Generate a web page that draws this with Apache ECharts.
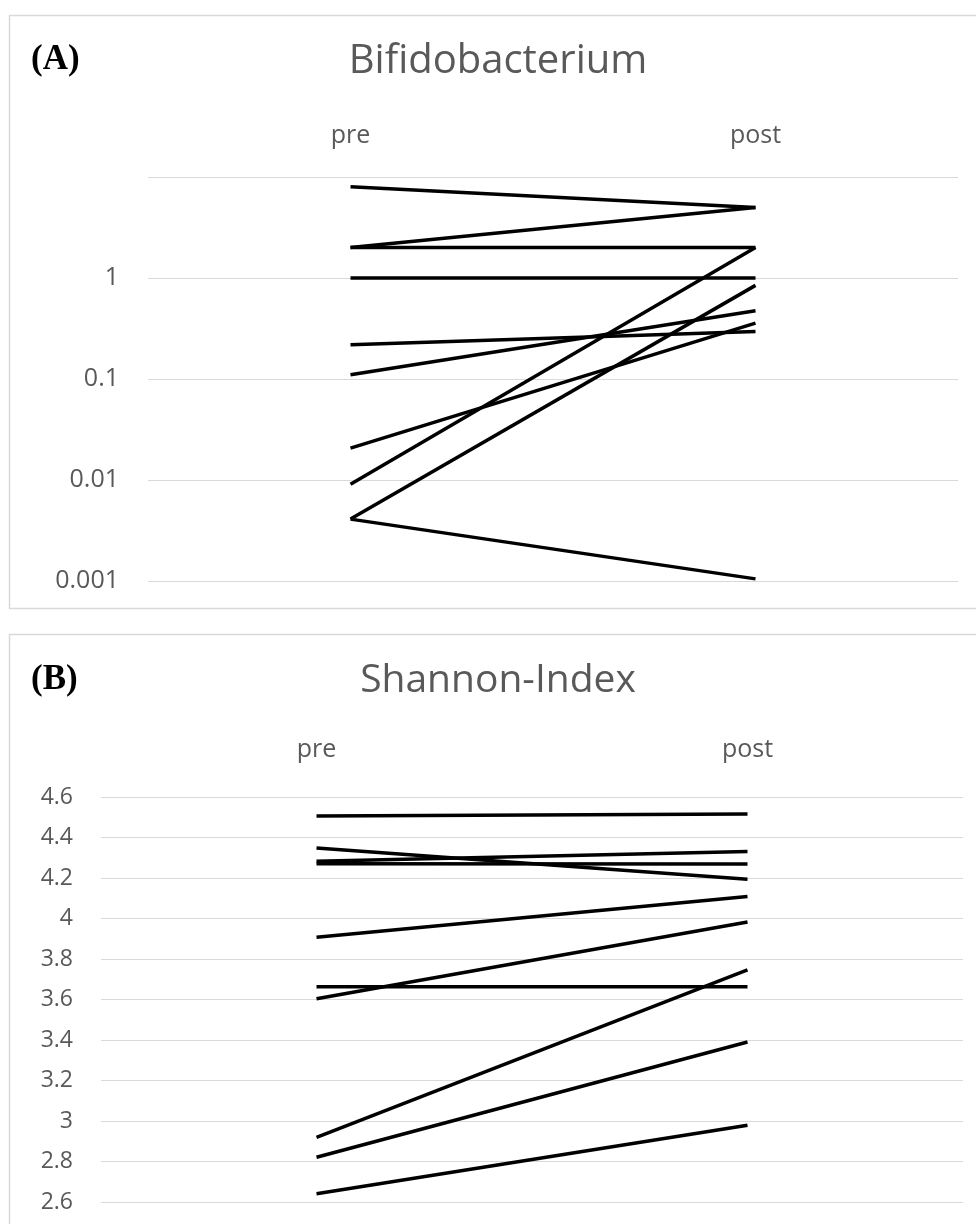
<!DOCTYPE html>
<html>
<head>
<meta charset="utf-8">
<script src="https://cdn.jsdelivr.net/npm/echarts@6/dist/echarts.min.js"></script>
<style>
  html, body { margin: 0; padding: 0; background: #fff; }
  #main { width: 976px; height: 1224px; }
</style>
</head>
<body>
<div id="main"></div>
<script>
var categories = ['pre', 'post'];

// (A) Bifidobacterium, one pair per subject
var bifidoPre  = [8, 2, 2, 1, 0.218, 0.110, 0.0207, 0.0091, 0.0041, 0.0041];
var bifidoPost = [5, 5, 2, 1, 0.296, 0.474, 0.358, 2, 0.845, 0.00105];

// (B) Shannon-Index
var shannonPre  = [4.506, 4.348, 4.283, 4.270, 3.907, 3.604, 3.663, 2.919, 2.821, 2.641];
var shannonPost = [4.516, 4.194, 4.331, 4.269, 4.109, 3.983, 3.663, 3.746, 3.390, 2.979];

var shannonTicks = [2.6, 2.8, 3, 3.2, 3.4, 3.6, 3.8, 4, 4.2, 4.4, 4.6];

var chartDom = document.getElementById('main');
var myChart = echarts.init(chartDom);
var option;

var grey = '#595959';
var gridGrey = '#d9d9d9';
var font = 'Open Sans';

var series = [];
for (let i = 0; i < bifidoPre.length; i++) {
    series.push({
        type: 'line',
        xAxisIndex: 0,
        yAxisIndex: 0,
        data: [bifidoPre[i], bifidoPost[i]],
        symbol: 'none',
        lineStyle: { color: '#000', width: 3.5 }
    });
}
for (let i = 0; i < shannonPre.length; i++) {
    series.push({
        type: 'line',
        xAxisIndex: 1,
        yAxisIndex: 1,
        data: [shannonPre[i], shannonPost[i]],
        symbol: 'none',
        lineStyle: { color: '#000', width: 3.5 }
    });
}

function catAxis(gridIndex, margin) {
    return {
        type: 'category',
        gridIndex: gridIndex,
        position: 'top',
        data: categories,
        boundaryGap: true,
        axisLine: { show: false },
        axisTick: { show: false },
        splitLine: { show: false },
        axisLabel: { color: grey, fontSize: 25, fontFamily: font, margin: margin }
    };
}

option = {
    backgroundColor: '#fff',
    animation: false,
    graphic: [
        // panel frames
        { type: 'rect', shape: { x: 9.5, y: 15.5, width: 990, height: 593 },
          style: { fill: 'none', stroke: gridGrey, lineWidth: 1.5 } },
        { type: 'rect', shape: { x: 9.5, y: 634.5, width: 990, height: 700 },
          style: { fill: 'none', stroke: gridGrey, lineWidth: 1.5 } },
        // panel letters
        { type: 'text', left: 31, top: 42,
          style: { text: '(A)', fontFamily: 'Liberation Serif', fontWeight: 'bold', fontSize: 35, fill: '#000' } },
        { type: 'text', left: 31, top: 662,
          style: { text: '(B)', fontFamily: 'Liberation Serif', fontWeight: 'bold', fontSize: 35, fill: '#000' } },
        // titles
        { type: 'text', x: 498, y: 62,
          style: { text: 'Bifidobacterium', fontFamily: font, fontSize: 40, fill: grey,
                   align: 'center', verticalAlign: 'middle' } },
        { type: 'text', x: 498, y: 681,
          style: { text: 'Shannon-Index', fontFamily: font, fontSize: 39, fill: grey,
                   align: 'center', verticalAlign: 'middle' } }
    ],
    grid: [
        { left: 148, top: 177, width: 810, height: 404 },
        { left: 101, top: 797, width: 862, height: 405 }
    ],
    xAxis: [catAxis(0, 29), catAxis(1, 35)],
    yAxis: [
        {
            type: 'log',
            gridIndex: 0,
            logBase: 10,
            min: 0.001,
            max: 10,
            axisLine: { show: false },
            axisTick: { show: false },
            splitLine: { lineStyle: { color: gridGrey, width: 1 } },
            axisLabel: {
                color: grey, fontSize: 25, fontFamily: font, margin: 29,
                formatter: function (v) {
                    if (v >= 9.99) return '';
                    return String(+v.toPrecision(3));
                }
            }
        },
        {
            type: 'value',
            gridIndex: 1,
            min: shannonTicks[0],
            max: shannonTicks[shannonTicks.length - 1],
            interval: 0.2,
            axisLine: { show: false },
            axisTick: { show: false },
            splitLine: { lineStyle: { color: gridGrey, width: 1 } },
            axisLabel: {
                color: grey, fontSize: 23, fontFamily: font, margin: 28,
                formatter: function (v) { return String(+v.toFixed(1)); }
            }
        }
    ],
    series: series
};

option && myChart.setOption(option);
</script>
</body>
</html>
